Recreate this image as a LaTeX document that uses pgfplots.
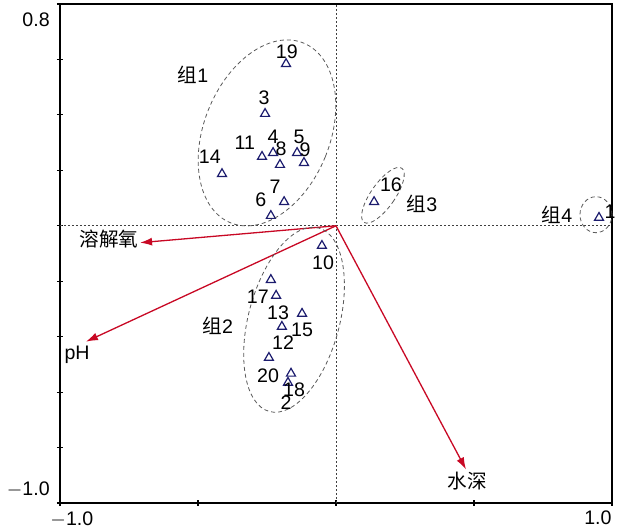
\documentclass[border=0pt]{standalone}
\usepackage{fontspec}
\setmainfont{Liberation Sans}
\newfontfamily\cjk{Noto Sans CJK SC}
\usepackage{pgfplots}
\pgfplotsset{compat=1.18}
\usetikzlibrary{arrows.meta,shapes.geometric}

\definecolor{arrowred}{RGB}{200,8,36}
\definecolor{navy}{RGB}{28,28,110}
\definecolor{ellgray}{RGB}{90,90,90}

\begin{document}
\begin{tikzpicture}
\useasboundingbox (-30pt,-14pt) rectangle (281.5pt,251.5pt);
\begin{axis}[
    at={(0,0)}, anchor=south west,
    scale only axis,
    width=276pt, height=249.5pt,
    xmin=-1, xmax=1, ymin=-1, ymax=0.8,
    clip mode=individual,
    xtick={-1,-0.5,0,0.5,1},
    ytick={-1,-0.8,-0.6,-0.4,-0.2,0,0.2,0.4,0.6,0.8},
    xticklabels={}, yticklabels={},
    xtick pos=left, ytick pos=left,
    tick align=center,
    major tick length=3pt,
    tick style={black, line width=0.6pt},
    axis line style={black, line width=0.8pt},
    font=\fontsize{9.8}{11}\selectfont,
]

% zero lines
\addplot[ellgray!70!black, line width=0.4pt, dash pattern=on 1pt off 1pt] coordinates {(-1,0) (1,0)};
\addplot[ellgray!70!black, line width=0.4pt, dash pattern=on 1pt off 1pt] coordinates {(0,-1) (0,0.8)};

% environmental arrows
\addplot[arrowred, line width=0.65pt, -{Latex[length=6pt,width=4pt]}] coordinates {(0,0) (-0.710,-0.061)};
\addplot[arrowred, line width=0.65pt, -{Latex[length=6pt,width=4pt]}] coordinates {(0,0) (-0.906,-0.418)};
\addplot[arrowred, line width=0.65pt, -{Latex[length=6pt,width=4pt]}] coordinates {(0,0) (0.471,-0.879)};

% samples
\addplot[only marks, mark=triangle, mark size=2.6pt, navy, mark options={line width=0.6pt}] table {
x y
0.953 0.029
-0.174 -0.566
-0.257 0.404
-0.228 0.263
-0.141 0.263
-0.236 0.036
-0.188 0.086
-0.203 0.220
-0.116 0.227
-0.051 -0.072
-0.268 0.249
-0.196 -0.364
-0.236 -0.195
-0.413 0.187
-0.123 -0.317
0.138 0.086
-0.217 -0.252
-0.163 -0.533
-0.181 0.584
-0.243 -0.476
};

% group ellipses
\node[draw=ellgray, line width=0.4pt, dash pattern=on 2pt off 1.5pt, ellipse, inner sep=0pt,
      minimum width=63pt, minimum height=97pt, rotate=-22] at (axis cs:-0.250,0.335) {};
\node[draw=ellgray, line width=0.4pt, dash pattern=on 2pt off 1.5pt, ellipse, inner sep=0pt,
      minimum width=45.5pt, minimum height=95pt, rotate=-15] at (axis cs:-0.152,-0.339) {};
\node[draw=ellgray, line width=0.4pt, dash pattern=on 2pt off 1.5pt, ellipse, inner sep=0pt,
      minimum width=12pt, minimum height=33pt, rotate=-35] at (axis cs:0.170,0.110) {};
\node[draw=ellgray, line width=0.4pt, dash pattern=on 2pt off 1.5pt, ellipse, inner sep=0pt,
      minimum width=16pt, minimum height=18pt] at (axis cs:0.942,0.040) {};

% sample labels
\node at (axis cs:0.993,0.050) {1};
\node at (axis cs:-0.181,-0.638) {2};
\node at (axis cs:-0.261,0.461) {3};
\node at (axis cs:-0.228,0.321) {4};
\node at (axis cs:-0.134,0.321) {5};
\node at (axis cs:-0.272,0.094) {6};
\node at (axis cs:-0.221,0.141) {7};
\node at (axis cs:-0.199,0.277) {8};
\node at (axis cs:-0.112,0.274) {9};
\node at (axis cs:-0.047,-0.133) {10};
\node at (axis cs:-0.330,0.299) {11};
\node at (axis cs:-0.192,-0.422) {12};
\node at (axis cs:-0.210,-0.314) {13};
\node at (axis cs:-0.457,0.249) {14};
\node at (axis cs:-0.123,-0.375) {15};
\node at (axis cs:0.199,0.148) {16};
\node at (axis cs:-0.283,-0.256) {17};
\node at (axis cs:-0.152,-0.591) {18};
\node at (axis cs:-0.178,0.627) {19};
\node at (axis cs:-0.246,-0.541) {20};

% group labels
\node at (axis cs:-0.518,0.544) {{\cjk 组}1};
\node at (axis cs:-0.428,-0.360) {{\cjk 组}2};
\node at (axis cs:0.312,0.079) {{\cjk 组}3};
\node at (axis cs:0.801,0.040) {{\cjk 组}4};

% variable labels
\node at (axis cs:-0.822,-0.047) {\cjk 溶解氧};
\node at (axis cs:-0.938,-0.465) {pH};
\node at (axis cs:0.475,-0.922) {\cjk 水深};

% tick labels
\node[anchor=east, inner sep=0pt] at (axis cs:-1.036,0.744) {0.8};
\node[anchor=east, inner sep=0pt] at (axis cs:-1.036,-0.951) {$-$1.0};
\node at (axis cs:-0.957,-1.059) {$-$1.0};
\node[anchor=east, inner sep=0pt] at (axis cs:1.0,-1.052) {1.0};

\end{axis}
\end{tikzpicture}
\end{document}
